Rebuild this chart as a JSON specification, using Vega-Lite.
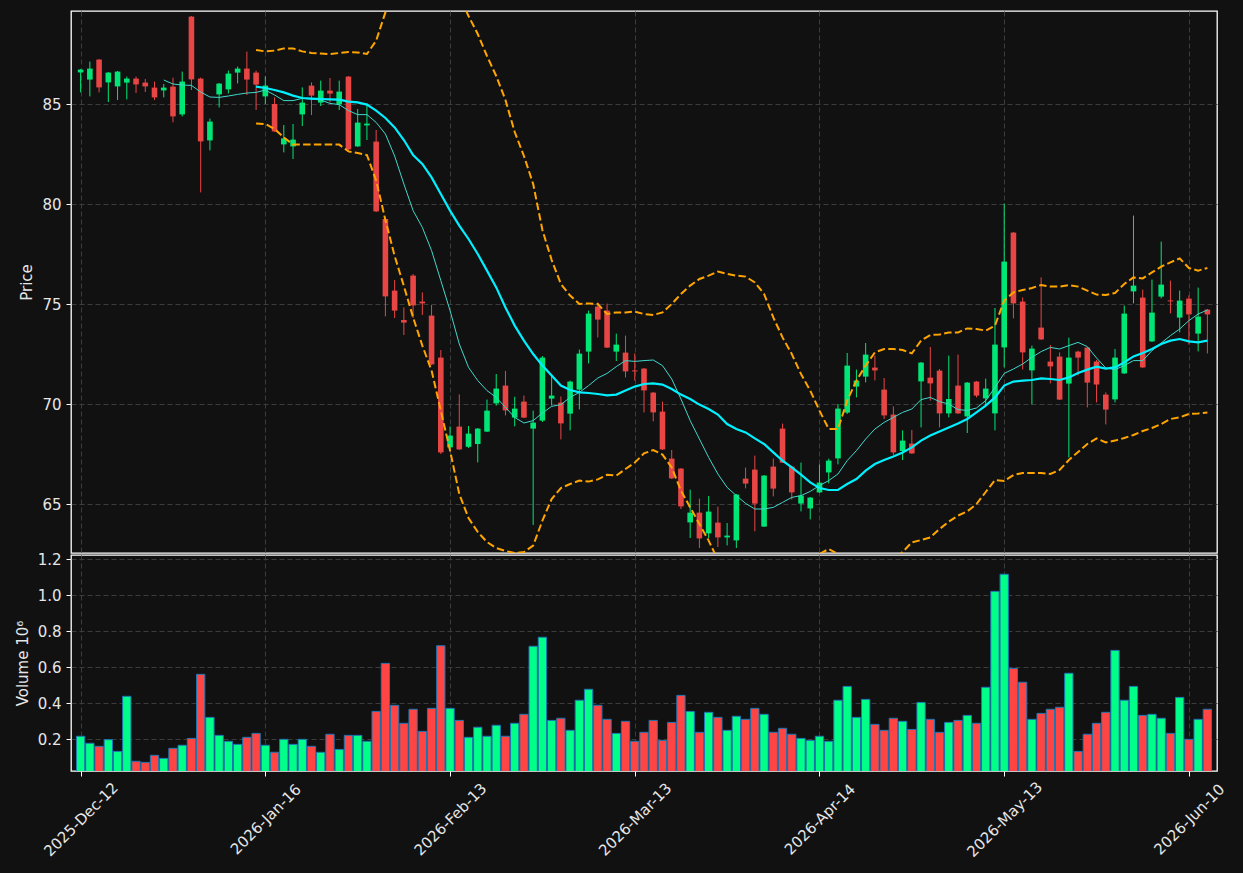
{
"$schema": "https://vega.github.io/schema/vega-lite/v6.json",
"background": "#111111",
"padding": {"left": 14, "top": 10, "right": 19, "bottom": 14},
"spacing": 2,
"bounds": "flush",
"config": {
  "view": {"stroke": "#ffffff", "strokeWidth": 1.3},
  "axis": {"labelColor": "#e6e6e6", "titleColor": "#e6e6e6", "labelFont": "DejaVu Sans", "titleFont": "DejaVu Sans", "labelFontSize": 15, "titleFontSize": 15, "titleFontWeight": "normal", "tickColor": "#ffffff", "tickSize": 5, "domain": false, "gridColor": "#3c3c3c", "gridDash": [5, 3], "gridWidth": 1, "labelPadding": 5}
},
"datasets": {"d": [
{"i":0,"o":86.58,"h":86.75,"l":85.58,"c":86.72,"v":217000},
{"i":1,"o":86.22,"h":87.12,"l":85.38,"c":86.77,"v":178000},
{"i":2,"o":87.22,"h":87.25,"l":85.58,"c":85.83,"v":161000},
{"i":3,"o":86.08,"h":86.6,"l":85.1,"c":86.57,"v":198000},
{"i":4,"o":85.88,"h":86.65,"l":85.2,"c":86.62,"v":133000},
{"i":5,"o":86.07,"h":86.37,"l":85.23,"c":86.27,"v":439000},
{"i":6,"o":86.27,"h":86.37,"l":85.55,"c":85.98,"v":78000},
{"i":7,"o":86.07,"h":86.25,"l":85.6,"c":85.88,"v":72000},
{"i":8,"o":85.82,"h":86.12,"l":85.2,"c":85.33,"v":111000},
{"i":9,"o":85.68,"h":86.0,"l":85.33,"c":85.82,"v":94000,"m10":86.2},
{"i":10,"o":85.87,"h":86.32,"l":84.08,"c":84.38,"v":150000,"m10":86.0},
{"i":11,"o":84.48,"h":86.62,"l":84.38,"c":86.12,"v":167000,"m10":85.95},
{"i":12,"o":89.37,"h":89.4,"l":85.7,"c":86.23,"v":205000,"m10":85.93},
{"i":13,"o":86.27,"h":86.32,"l":80.58,"c":83.13,"v":561000,"m10":85.6},
{"i":14,"o":83.18,"h":84.27,"l":82.68,"c":84.12,"v":322000,"m10":85.35},
{"i":15,"o":85.48,"h":86.05,"l":84.83,"c":86.02,"v":222000,"m10":85.33},
{"i":16,"o":85.73,"h":86.67,"l":85.53,"c":86.52,"v":189000,"m10":85.4},
{"i":17,"o":86.57,"h":86.87,"l":86.03,"c":86.77,"v":172000,"m10":85.48},
{"i":18,"o":86.77,"h":87.62,"l":85.45,"c":86.22,"v":211000,"m10":85.55},
{"i":19,"o":86.57,"h":86.67,"l":84.7,"c":85.97,"v":233000,"m10":85.58,"m20":85.87,"bu":87.7,"bl":84.03},
{"i":20,"o":85.38,"h":86.38,"l":85.0,"c":85.92,"v":167000,"m10":85.7,"m20":85.8,"bu":87.63,"bl":84.0},
{"i":21,"o":85.0,"h":85.33,"l":83.6,"c":83.63,"v":128000,"m10":85.45,"m20":85.7,"bu":87.67,"bl":83.75},
{"i":22,"o":82.98,"h":83.95,"l":82.58,"c":83.28,"v":200000,"m10":85.17,"m20":85.58,"bu":87.78,"bl":83.33},
{"i":23,"o":82.88,"h":84.0,"l":82.25,"c":83.22,"v":172000,"m10":85.17,"m20":85.42,"bu":87.78,"bl":82.97},
{"i":24,"o":84.48,"h":85.83,"l":83.9,"c":85.07,"v":200000,"m10":85.28,"m20":85.3,"bu":87.63,"bl":82.97},
{"i":25,"o":85.92,"h":86.08,"l":84.45,"c":85.42,"v":161000,"m10":85.25,"m20":85.27,"bu":87.55,"bl":82.97},
{"i":26,"o":85.07,"h":86.17,"l":84.9,"c":85.67,"v":128000,"m10":85.2,"m20":85.25,"bu":87.52,"bl":82.97},
{"i":27,"o":85.67,"h":86.3,"l":85.07,"c":85.52,"v":228000,"m10":85.03,"m20":85.23,"bu":87.5,"bl":82.97},
{"i":28,"o":84.98,"h":86.17,"l":84.7,"c":85.62,"v":144000,"m10":84.97,"m20":85.22,"bu":87.55,"bl":82.97},
{"i":29,"o":86.37,"h":86.4,"l":82.7,"c":82.73,"v":222000,"m10":84.67,"m20":85.12,"bu":87.6,"bl":82.63},
{"i":30,"o":82.88,"h":84.75,"l":82.85,"c":84.07,"v":222000,"m10":84.47,"m20":85.08,"bu":87.58,"bl":82.55},
{"i":31,"o":83.93,"h":85.03,"l":83.2,"c":84.02,"v":189000,"m10":84.47,"m20":84.97,"bu":87.5,"bl":82.45},
{"i":32,"o":83.12,"h":83.7,"l":79.6,"c":79.63,"v":355000,"m10":84.08,"m20":84.67,"bu":88.17,"bl":81.17},
{"i":33,"o":79.25,"h":79.3,"l":74.38,"c":75.38,"v":622000,"m10":83.5,"m20":84.3,"bu":89.58,"bl":79.2},
{"i":34,"o":75.67,"h":76.2,"l":74.3,"c":74.67,"v":389000,"m10":82.4,"m20":83.83,"bu":91.5,"bl":77.4},
{"i":35,"o":74.2,"h":74.83,"l":73.45,"c":74.07,"v":289000,"m10":81.0,"m20":83.2,"bu":93.0,"bl":75.9},
{"i":36,"o":76.42,"h":76.5,"l":74.3,"c":74.93,"v":367000,"m10":79.67,"m20":82.45,"bu":94.0,"bl":74.33},
{"i":37,"o":75.12,"h":75.58,"l":74.45,"c":75.03,"v":244000,"m10":78.83,"m20":82.0,"bu":94.5,"bl":72.92},
{"i":38,"o":74.42,"h":74.95,"l":71.95,"c":71.98,"v":372000,"m10":77.67,"m20":81.33,"bu":94.5,"bl":71.67},
{"i":39,"o":72.32,"h":72.7,"l":67.5,"c":67.58,"v":720000,"m10":76.17,"m20":80.5,"bu":94.0,"bl":69.67},
{"i":40,"o":67.83,"h":68.88,"l":67.7,"c":68.42,"v":372000,"m10":74.67,"m20":79.67,"bu":92.5,"bl":67.67},
{"i":41,"o":68.87,"h":70.48,"l":67.7,"c":67.73,"v":305000,"m10":73.0,"m20":78.92,"bu":90.4,"bl":65.5},
{"i":42,"o":67.86,"h":68.9,"l":67.8,"c":68.52,"v":211000,"m10":71.83,"m20":78.25,"bu":89.4,"bl":64.3},
{"i":43,"o":68.0,"h":68.8,"l":67.08,"c":68.77,"v":267000,"m10":71.17,"m20":77.5,"bu":88.5,"bl":63.6},
{"i":44,"o":68.62,"h":70.22,"l":68.6,"c":69.67,"v":217000,"m10":70.67,"m20":76.67,"bu":87.4,"bl":63.1},
{"i":45,"o":70.03,"h":71.5,"l":69.92,"c":70.77,"v":278000,"m10":70.33,"m20":75.83,"bu":86.4,"bl":62.8},
{"i":46,"o":70.92,"h":71.65,"l":69.43,"c":69.68,"v":217000,"m10":69.83,"m20":74.83,"bu":85.2,"bl":62.65},
{"i":47,"o":69.32,"h":70.36,"l":68.88,"c":69.77,"v":289000,"m10":69.33,"m20":73.92,"bu":83.6,"bl":62.55},
{"i":48,"o":70.12,"h":70.42,"l":69.3,"c":69.32,"v":339000,"m10":69.05,"m20":73.17,"bu":82.4,"bl":62.6},
{"i":49,"o":68.77,"h":69.67,"l":63.95,"c":69.07,"v":717000,"m10":69.17,"m20":72.5,"bu":81.0,"bl":62.92},
{"i":50,"o":69.17,"h":72.4,"l":69.1,"c":72.32,"v":767000,"m10":69.55,"m20":71.92,"bu":78.7,"bl":64.17},
{"i":51,"o":70.27,"h":71.42,"l":69.92,"c":70.42,"v":305000,"m10":69.88,"m20":71.42,"bu":77.2,"bl":65.25},
{"i":52,"o":70.07,"h":70.38,"l":68.23,"c":69.03,"v":317000,"m10":69.97,"m20":70.92,"bu":76.0,"bl":65.8},
{"i":53,"o":69.52,"h":71.17,"l":68.68,"c":71.12,"v":250000,"m10":70.33,"m20":70.7,"bu":75.42,"bl":66.0},
{"i":54,"o":70.72,"h":72.72,"l":69.73,"c":72.52,"v":417000,"m10":70.58,"m20":70.58,"bu":75.0,"bl":66.17},
{"i":55,"o":72.62,"h":74.67,"l":72.03,"c":74.52,"v":478000,"m10":70.92,"m20":70.55,"bu":75.03,"bl":66.12},
{"i":56,"o":74.87,"h":75.08,"l":73.33,"c":74.22,"v":389000,"m10":71.3,"m20":70.5,"bu":75.0,"bl":66.23},
{"i":57,"o":74.67,"h":75.02,"l":72.8,"c":72.82,"v":311000,"m10":71.53,"m20":70.43,"bu":74.5,"bl":66.46},
{"i":58,"o":72.62,"h":73.52,"l":72.15,"c":72.97,"v":233000,"m10":71.87,"m20":70.47,"bu":74.58,"bl":66.42},
{"i":59,"o":72.57,"h":73.42,"l":71.33,"c":71.63,"v":300000,"m10":72.17,"m20":70.67,"bu":74.58,"bl":66.75},
{"i":60,"o":71.68,"h":72.53,"l":71.17,"c":71.63,"v":189000,"m10":72.13,"m20":70.87,"bu":74.62,"bl":67.07},
{"i":61,"o":71.77,"h":71.8,"l":69.58,"c":70.68,"v":239000,"m10":72.17,"m20":71.0,"bu":74.5,"bl":67.53},
{"i":62,"o":70.57,"h":70.6,"l":69.13,"c":69.58,"v":305000,"m10":72.2,"m20":71.03,"bu":74.45,"bl":67.7},
{"i":63,"o":69.62,"h":70.12,"l":67.7,"c":67.73,"v":194000,"m10":71.92,"m20":70.97,"bu":74.58,"bl":67.47},
{"i":64,"o":67.27,"h":67.7,"l":66.25,"c":66.28,"v":294000,"m10":71.25,"m20":70.75,"bu":75.0,"bl":66.83},
{"i":65,"o":66.77,"h":66.8,"l":64.75,"c":64.88,"v":444000,"m10":70.25,"m20":70.47,"bu":75.5,"bl":65.67},
{"i":66,"o":64.08,"h":65.72,"l":63.3,"c":64.57,"v":355000,"m10":69.17,"m20":70.25,"bu":75.92,"bl":64.83},
{"i":67,"o":64.57,"h":65.27,"l":62.8,"c":63.28,"v":239000,"m10":68.25,"m20":69.97,"bu":76.25,"bl":64.0},
{"i":68,"o":63.53,"h":65.4,"l":63.3,"c":64.62,"v":350000,"m10":67.33,"m20":69.75,"bu":76.42,"bl":63.17},
{"i":69,"o":64.07,"h":64.87,"l":62.85,"c":63.33,"v":322000,"m10":66.5,"m20":69.47,"bu":76.62,"bl":62.2},
{"i":70,"o":63.33,"h":64.05,"l":62.93,"c":63.42,"v":250000,"m10":65.83,"m20":69.0,"bu":76.5,"bl":61.7},
{"i":71,"o":63.18,"h":65.5,"l":62.8,"c":65.47,"v":328000,"m10":65.42,"m20":68.75,"bu":76.42,"bl":61.3},
{"i":72,"o":66.27,"h":66.82,"l":65.78,"c":66.02,"v":311000,"m10":65.03,"m20":68.58,"bu":76.37,"bl":61.1},
{"i":73,"o":66.72,"h":67.42,"l":63.63,"c":65.02,"v":372000,"m10":64.75,"m20":68.28,"bu":76.08,"bl":61.1},
{"i":74,"o":63.87,"h":66.45,"l":63.85,"c":66.42,"v":339000,"m10":64.75,"m20":68.0,"bu":75.5,"bl":61.3},
{"i":75,"o":66.87,"h":67.27,"l":65.38,"c":65.77,"v":239000,"m10":64.83,"m20":67.58,"bu":74.33,"bl":61.6},
{"i":76,"o":68.77,"h":69.02,"l":67.05,"c":67.07,"v":261000,"m10":65.08,"m20":67.17,"bu":73.33,"bl":61.9},
{"i":77,"o":66.87,"h":66.9,"l":65.22,"c":65.58,"v":228000,"m10":65.33,"m20":66.83,"bu":72.5,"bl":62.1},
{"i":78,"o":65.02,"h":67.07,"l":64.63,"c":65.42,"v":205000,"m10":65.42,"m20":66.47,"bu":71.5,"bl":62.2},
{"i":79,"o":64.78,"h":65.35,"l":64.23,"c":65.32,"v":194000,"m10":65.63,"m20":66.08,"bu":70.67,"bl":62.3},
{"i":80,"o":65.58,"h":66.98,"l":65.55,"c":66.07,"v":217000,"m10":65.92,"m20":65.8,"bu":69.67,"bl":62.5},
{"i":81,"o":66.58,"h":67.27,"l":66.03,"c":67.17,"v":189000,"m10":66.17,"m20":65.7,"bu":68.75,"bl":62.75},
{"i":82,"o":67.28,"h":70.0,"l":66.98,"c":69.77,"v":417000,"m10":66.5,"m20":65.7,"bu":68.75,"bl":62.5},
{"i":83,"o":69.57,"h":72.55,"l":69.5,"c":71.92,"v":494000,"m10":67.17,"m20":66.0,"bu":70.17,"bl":62.2},
{"i":84,"o":70.87,"h":71.72,"l":70.33,"c":71.17,"v":322000,"m10":67.67,"m20":66.25,"bu":71.17,"bl":61.9},
{"i":85,"o":71.37,"h":73.05,"l":71.08,"c":72.47,"v":422000,"m10":68.25,"m20":66.67,"bu":71.92,"bl":61.8},
{"i":86,"o":71.82,"h":72.42,"l":71.18,"c":71.68,"v":283000,"m10":68.75,"m20":67.0,"bu":72.58,"bl":61.8},
{"i":87,"o":70.72,"h":71.3,"l":69.25,"c":69.43,"v":250000,"m10":69.08,"m20":67.2,"bu":72.75,"bl":61.9},
{"i":88,"o":69.47,"h":69.88,"l":67.45,"c":67.58,"v":317000,"m10":69.33,"m20":67.37,"bu":72.75,"bl":62.2},
{"i":89,"o":67.65,"h":68.68,"l":67.2,"c":68.17,"v":300000,"m10":69.58,"m20":67.58,"bu":72.7,"bl":62.6},
{"i":90,"o":68.02,"h":68.7,"l":67.5,"c":67.53,"v":255000,"m10":69.75,"m20":67.83,"bu":72.53,"bl":63.08},
{"i":91,"o":71.13,"h":72.1,"l":68.83,"c":72.07,"v":405000,"m10":70.22,"m20":68.17,"bu":73.17,"bl":63.2},
{"i":92,"o":71.32,"h":72.85,"l":70.17,"c":71.03,"v":311000,"m10":70.33,"m20":68.42,"bu":73.45,"bl":63.33},
{"i":93,"o":71.67,"h":71.75,"l":68.83,"c":69.53,"v":239000,"m10":70.12,"m20":68.63,"bu":73.47,"bl":63.75},
{"i":94,"o":69.53,"h":72.42,"l":69.33,"c":70.25,"v":294000,"m10":70.0,"m20":68.83,"bu":73.57,"bl":64.12},
{"i":95,"o":70.92,"h":72.47,"l":69.5,"c":69.53,"v":305000,"m10":69.72,"m20":69.03,"bu":73.58,"bl":64.42},
{"i":96,"o":69.38,"h":71.1,"l":68.55,"c":71.07,"v":333000,"m10":69.68,"m20":69.25,"bu":73.78,"bl":64.63},
{"i":97,"o":71.12,"h":71.15,"l":70.33,"c":70.42,"v":289000,"m10":69.8,"m20":69.58,"bu":73.75,"bl":65.0},
{"i":98,"o":70.28,"h":71.27,"l":69.93,"c":70.77,"v":489000,"m10":70.17,"m20":69.92,"bu":73.67,"bl":65.6},
{"i":99,"o":69.53,"h":74.8,"l":68.68,"c":72.97,"v":1022000,"m10":70.83,"m20":70.33,"bu":73.92,"bl":66.2},
{"i":100,"o":72.83,"h":80.02,"l":71.83,"c":77.12,"v":1117000,"m10":71.53,"m20":70.92,"bu":75.17,"bl":66.15},
{"i":101,"o":78.57,"h":78.6,"l":74.28,"c":75.03,"v":594000,"m10":71.75,"m20":71.12,"bu":75.58,"bl":66.45},
{"i":102,"o":75.12,"h":75.33,"l":71.73,"c":72.58,"v":517000,"m10":72.0,"m20":71.17,"bu":75.7,"bl":66.55},
{"i":103,"o":71.68,"h":72.92,"l":69.98,"c":72.77,"v":311000,"m10":72.33,"m20":71.2,"bu":75.8,"bl":66.55},
{"i":104,"o":73.82,"h":76.33,"l":73.2,"c":73.23,"v":344000,"m10":72.62,"m20":71.28,"bu":75.95,"bl":66.55},
{"i":105,"o":72.12,"h":72.95,"l":71.03,"c":71.88,"v":367000,"m10":72.83,"m20":71.25,"bu":75.87,"bl":66.5},
{"i":106,"o":72.37,"h":72.58,"l":70.2,"c":70.22,"v":378000,"m10":72.75,"m20":71.2,"bu":75.87,"bl":66.7},
{"i":107,"o":71.02,"h":73.32,"l":67.33,"c":72.32,"v":567000,"m10":72.92,"m20":71.33,"bu":75.95,"bl":67.2},
{"i":108,"o":72.62,"h":72.67,"l":71.43,"c":72.32,"v":133000,"m10":73.08,"m20":71.55,"bu":75.87,"bl":67.6},
{"i":109,"o":72.82,"h":72.85,"l":69.83,"c":71.07,"v":228000,"m10":72.87,"m20":71.72,"bu":75.67,"bl":68.0},
{"i":110,"o":72.12,"h":72.2,"l":70.08,"c":70.97,"v":289000,"m10":72.3,"m20":71.87,"bu":75.47,"bl":68.28},
{"i":111,"o":70.47,"h":70.58,"l":68.98,"c":69.72,"v":350000,"m10":71.8,"m20":71.77,"bu":75.45,"bl":68.08},
{"i":112,"o":70.23,"h":72.75,"l":70.08,"c":72.32,"v":694000,"m10":71.72,"m20":71.83,"bu":75.55,"bl":68.17},
{"i":113,"o":71.53,"h":74.92,"l":71.5,"c":74.52,"v":417000,"m10":71.92,"m20":72.08,"bu":76.0,"bl":68.3},
{"i":114,"o":75.63,"h":79.42,"l":75.03,"c":75.92,"v":494000,"m10":72.17,"m20":72.38,"bu":76.33,"bl":68.45},
{"i":115,"o":75.32,"h":75.72,"l":71.8,"c":71.83,"v":333000,"m10":72.17,"m20":72.55,"bu":76.28,"bl":68.65},
{"i":116,"o":73.13,"h":76.22,"l":73.1,"c":74.57,"v":339000,"m10":72.67,"m20":72.75,"bu":76.58,"bl":68.8},
{"i":117,"o":75.37,"h":78.12,"l":75.28,"c":75.97,"v":317000,"m10":73.05,"m20":73.0,"bu":76.87,"bl":69.0},
{"i":118,"o":75.18,"h":76.17,"l":74.53,"c":75.13,"v":233000,"m10":73.42,"m20":73.17,"bu":77.08,"bl":69.25},
{"i":119,"o":74.32,"h":75.67,"l":73.58,"c":75.17,"v":433000,"m10":73.75,"m20":73.25,"bu":77.28,"bl":69.33},
{"i":120,"o":75.27,"h":75.43,"l":72.97,"c":74.48,"v":200000,"m10":74.17,"m20":73.13,"bu":76.8,"bl":69.5},
{"i":121,"o":73.52,"h":75.82,"l":72.63,"c":74.37,"v":311000,"m10":74.5,"m20":73.08,"bu":76.67,"bl":69.53},
{"i":122,"o":74.72,"h":74.75,"l":72.53,"c":74.48,"v":367000,"m10":74.7,"m20":73.17,"bu":76.8,"bl":69.58}
]},
"vconcat": [
{
  "width": 1146, "height": 542,
  "data": {"name": "d"},
  "encoding": {
    "x": {"field": "i", "type": "quantitative", "scale": {"domain": [-0.5, 122.5], "nice": false, "zero": false},
      "axis": {"values": [0, 20, 40, 60, 80, 100, 120], "labels": false, "ticks": false, "title": null, "grid": true, "minExtent": 0, "maxExtent": 0}}
  },
  "layer": [
    {"mark": {"type": "rule", "strokeWidth": 1, "clip": true},
     "encoding": {
       "y": {"field": "l", "type": "quantitative", "title": "Price", "scale": {"domain": [62.55, 89.65], "nice": false, "zero": false}, "axis": {"values": [65, 70, 75, 80, 85], "grid": true, "titlePadding": 7}},
       "y2": {"field": "h"},
       "color": {"condition": {"test": "datum.c >= datum.o", "value": "#00e676"}, "value": "#e84545"}}},
    {"mark": {"type": "bar", "size": 5.6, "clip": true, "orient": "vertical"},
     "encoding": {
       "y": {"field": "o", "type": "quantitative", "title": "Price", "scale": {"domain": [62.55, 89.65], "nice": false, "zero": false}},
       "y2": {"field": "c"},
       "color": {"condition": {"test": "datum.c >= datum.o", "value": "#00e676"}, "value": "#e84545"}}},
    {"mark": {"type": "line", "color": "#ffa500", "strokeWidth": 2, "strokeDash": [7.5, 3.3], "clip": true},
     "encoding": {"y": {"field": "bu", "type": "quantitative", "title": "Price", "scale": {"domain": [62.55, 89.65], "nice": false, "zero": false}}}},
    {"mark": {"type": "line", "color": "#ffa500", "strokeWidth": 2, "strokeDash": [7.5, 3.3], "clip": true},
     "encoding": {"y": {"field": "bl", "type": "quantitative", "title": "Price", "scale": {"domain": [62.55, 89.65], "nice": false, "zero": false}}}},
    {"mark": {"type": "line", "color": "#40d8cc", "strokeWidth": 1, "clip": true},
     "encoding": {"y": {"field": "m10", "type": "quantitative", "title": "Price", "scale": {"domain": [62.55, 89.65], "nice": false, "zero": false}}}},
    {"mark": {"type": "line", "color": "#00f0ff", "strokeWidth": 2.2, "clip": true},
     "encoding": {"y": {"field": "m20", "type": "quantitative", "title": "Price", "scale": {"domain": [62.55, 89.65], "nice": false, "zero": false}}}}
  ]
},
{
  "width": 1146, "height": 216,
  "data": {"name": "d"},
  "mark": {"type": "bar", "size": 8.3, "stroke": "#1f77b4", "strokeWidth": 1, "clip": true, "orient": "vertical"},
  "encoding": {
    "x": {"field": "i", "type": "quantitative", "scale": {"domain": [-0.5, 122.5], "nice": false, "zero": false},
      "axis": {"values": [0, 20, 40, 60, 80, 100, 120], "labelExpr": "['2025-Dec-12','2026-Jan-16','2026-Feb-13','2026-Mar-13','2026-Apr-14','2026-May-13','2026-Jun-10'][round(datum.value/20)]", "labelAngle": -45, "labelAlign": "center", "labelBaseline": "middle", "labelPadding": 43, "labelOverlap": false, "title": null, "grid": true}},
    "y": {"field": "v", "type": "quantitative", "title": "Volume 10⁶", "scale": {"domain": [24000, 1224000], "nice": false, "zero": false},
      "axis": {"values": [200000, 400000, 600000, 800000, 1000000, 1200000], "labelExpr": "format(datum.value/1000000, '.1f')", "grid": true, "titlePadding": 7}},
    "color": {"condition": {"test": "datum.c >= datum.o", "value": "#00ff88"}, "value": "#ff4444"}
  }
}
]
}
